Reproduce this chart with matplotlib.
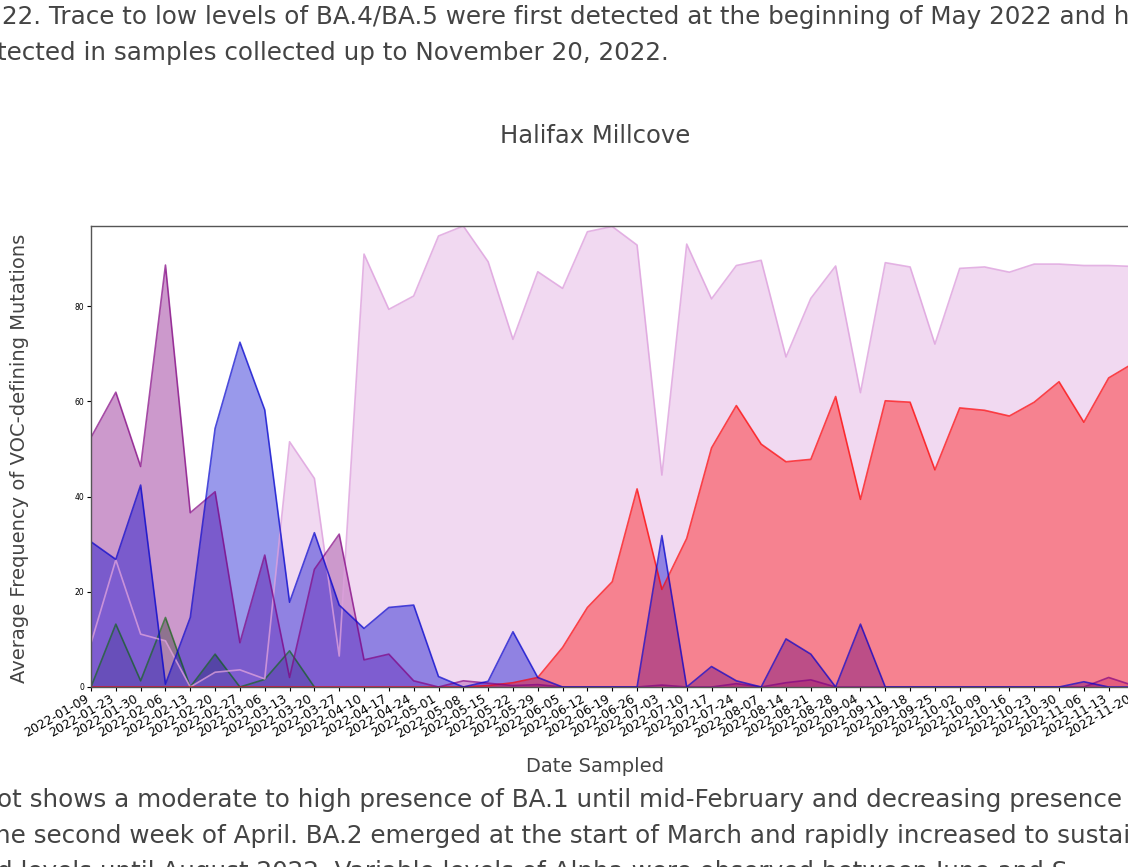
import numpy as np
import matplotlib
matplotlib.use("Agg")
import matplotlib.pyplot as plt

# sample dates (categorical x axis)
dates = ['2022-01-09', '2022-01-23', '2022-01-30', '2022-02-06', '2022-02-13',
         '2022-02-20', '2022-02-27', '2022-03-06', '2022-03-13', '2022-03-20',
         '2022-03-27', '2022-04-10', '2022-04-17', '2022-04-24', '2022-05-01',
         '2022-05-08', '2022-05-15', '2022-05-22', '2022-05-29', '2022-06-05',
         '2022-06-12', '2022-06-19', '2022-06-26', '2022-07-03', '2022-07-10',
         '2022-07-17', '2022-07-24', '2022-08-07', '2022-08-14', '2022-08-21',
         '2022-08-28', '2022-09-04', '2022-09-11', '2022-09-18', '2022-09-25',
         '2022-10-02', '2022-10-09', '2022-10-16', '2022-10-23', '2022-10-30',
         '2022-11-06', '2022-11-13', '2022-11-20']

# average frequency per lineage
green_vals = [0, 13.2, 1.3, 14.6, 0, 6.9, 0, 1.6, 7.6, 0]

purple_vals = [52.4, 61.9, 46.3, 88.6, 36.6, 41.0, 9.3, 27.7, 2.0, 24.7,
               32.1, 5.7, 6.9, 1.3, 0, 1.3, 0.8, 0.3, 0.5, 0,
               0, 0, 0, 0.4, 0, 0, 0.7, 0, 0.9, 1.5,
               0, 0, 0, 0, 0, 0, 0, 0, 0, 0,
               0, 2.0, 0.3]

plum_vals = [9.2, 26.7, 11.1, 9.7, 0, 3.1, 3.6, 1.7, 51.5, 43.8,
             6.5, 90.9, 79.3, 82.1, 94.7, 96.8, 89.3, 73.0, 87.2, 83.7,
             95.6, 96.7, 92.8, 44.5, 93.0, 81.5, 88.5, 89.6, 69.3, 81.6,
             88.4, 61.8, 89.1, 88.2, 72.0, 87.9, 88.2, 87.1, 88.8, 88.8,
             88.5, 88.5, 88.3]

blue_vals = [30.5, 26.8, 42.4, 0.6, 14.6, 54.3, 72.4, 58.2, 17.8, 32.4,
             17.2, 12.3, 16.7, 17.2, 2.2, 0, 1.2, 11.6, 2.0, 0,
             0, 0, 0, 31.8, 0, 4.3, 1.3, 0, 10.1, 6.9,
             0, 13.2, 0, 0, 0, 0, 0, 0, 0, 0,
             1.1, 0, 0]

red_vals = [0, 0, 0, 0, 0, 0, 0, 0, 0, 0,
            0, 0, 0, 0, 0, 0, 0.3, 0.9, 2.0, 8.3,
            16.7, 22.1, 41.6, 20.5, 31.2, 50.2, 59.1, 51.0, 47.3, 47.8,
            61.0, 39.4, 60.1, 59.8, 45.6, 58.6, 58.1, 56.9, 59.8, 64.1,
            55.6, 64.9, 68.0]

text_col = '#444444'

fig = plt.figure(figsize=(11.28, 8.67), dpi=100)
ax = fig.add_axes([91 / 1128, 1 - 687 / 867, (1133.5 - 91) / 1128, (687 - 226) / 867])

x = np.arange(len(dates))
xg = np.arange(len(green_vals))

# fills first, in stacking order
ax.fill_between(xg, 0, green_vals, color='darkgreen', alpha=0.4, linewidth=0)
ax.fill_between(x, 0, purple_vals, color='purple', alpha=0.4, linewidth=0)
ax.fill_between(x, 0, plum_vals, color='plum', alpha=0.4, linewidth=0)
ax.fill_between(x, 0, blue_vals, color='mediumblue', alpha=0.4, linewidth=0)
ax.fill_between(x, 0, red_vals, color='red', alpha=0.4, linewidth=0)

# outlines
ax.plot(xg, green_vals, color='darkgreen', alpha=0.6, lw=1.2)
ax.plot(x, plum_vals, color='plum', alpha=0.8, lw=1.2)
ax.plot(x, red_vals, color='red', alpha=0.7, lw=1.2)
ax.plot(x, purple_vals, color='purple', alpha=0.7, lw=1.2)
ax.plot(x, blue_vals, color='mediumblue', alpha=0.7, lw=1.2)

ax.set_xlim(0, len(dates) - 1)
ax.set_ylim(0, 96.8)
ax.set_xticks(x)
ax.set_xticklabels(dates, rotation=30, ha='right', fontsize=9)
ax.set_yticks([0, 20, 40, 60, 80])
ax.tick_params(axis='y', labelsize=5.5, length=3, pad=2)
ax.tick_params(axis='x', length=3, pad=1)
for s in ax.spines.values():
    s.set_color('#555555')
    s.set_linewidth(1)

fig.text(595 / 1128, 1 - 136 / 867, 'Halifax Millcove', ha='center', va='center',
         fontsize=17.5, color=text_col)
fig.text(595 / 1128, 1 - 767 / 867, 'Date Sampled', ha='center', va='center',
         fontsize=14, color=text_col)
fig.text(20 / 1128, 1 - 458 / 867, 'Average Frequency of VOC-defining Mutations',
         rotation=90, ha='center', va='center', fontsize=14, color=text_col)

# surrounding page text (cropped at the edges)
page_lines = [
    (17, 0.002, '22. Trace to low levels of BA.4/BA.5 were first detected at the beginning of May 2022 and h'),
    (53, -0.003, 'tected in samples collected up to November 20, 2022.'),
    (800, -0.003, 'ot shows a moderate to high presence of BA.1 until mid-February and decreasing presence'),
    (836, -0.004, 'he second week of April. BA.2 emerged at the start of March and rapidly increased to sustai'),
    (872, -0.003, 'd levels until August 2022. Variable levels of Alpha were observed between June and S'),
]
for ypix, xf, txt in page_lines:
    fig.text(xf, 1 - ypix / 867, txt, ha='left', va='center', fontsize=17.7, color=text_col)

fig.savefig('out.png', dpi=100)
plt.close('all')
